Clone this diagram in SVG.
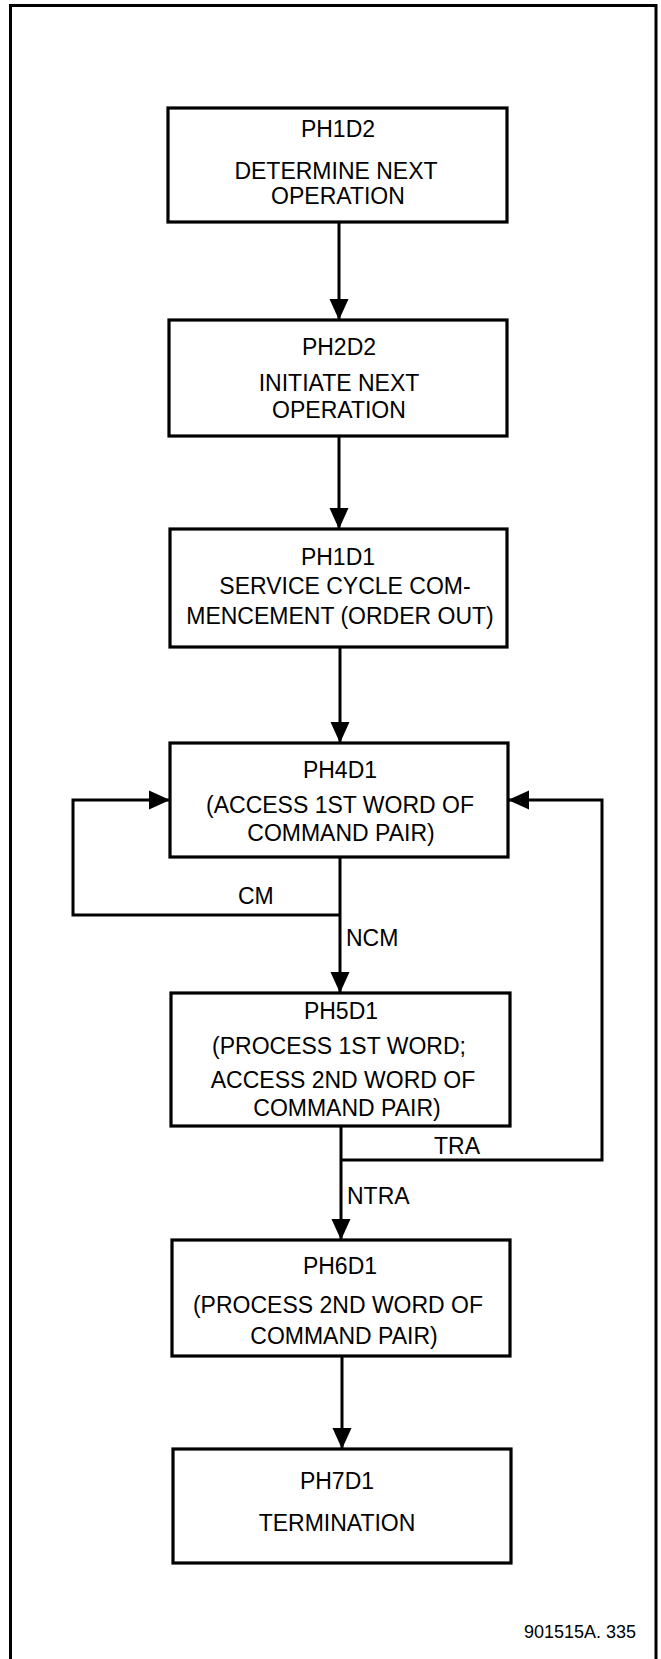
<svg xmlns="http://www.w3.org/2000/svg" width="661" height="1659" viewBox="0 0 661 1659">
  <defs>
    <marker id="arrow" markerUnits="userSpaceOnUse" markerWidth="22" markerHeight="20" refX="21" refY="10" orient="auto">
      <path d="M0,0.5 L21,10 L0,19.5 Z" fill="#000"/>
    </marker>
    <style>
      .frame { fill: none; stroke: #000; stroke-width: 3; }
      .box { fill: #fff; stroke: #000; stroke-width: 3.2; }
      .wire { fill: none; stroke: #000; stroke-width: 3; }
      text { font-family: "Liberation Sans", Arial, sans-serif; font-size: 23px; fill: #000; text-anchor: middle; }
      .lbl { text-anchor: start; }
    </style>
  </defs>
  <rect width="661" height="1659" fill="#fff"/>

  <!-- page frame, open at the bottom -->
  <path class="frame" d="M10.5,1659 V5.5 H656 V1659"/>

  <!-- connectors -->
  <g id="connectors">
    <line class="wire" x1="339" y1="222" x2="339" y2="320" marker-end="url(#arrow)"/>
    <line class="wire" x1="339" y1="436" x2="339" y2="529" marker-end="url(#arrow)"/>
    <line class="wire" x1="340" y1="647" x2="340" y2="743" marker-end="url(#arrow)"/>
    <line class="wire" x1="340" y1="857" x2="340" y2="993" marker-end="url(#arrow)"/>
    <polyline class="wire" points="340,915 73,915 73,800 170,800" marker-end="url(#arrow)"/>
    <line class="wire" x1="341" y1="1126" x2="341" y2="1240" marker-end="url(#arrow)"/>
    <polyline class="wire" points="341,1160 602,1160 602,800 508,800" marker-end="url(#arrow)"/>
    <line class="wire" x1="342" y1="1356" x2="342" y2="1449" marker-end="url(#arrow)"/>
    <text class="lbl" x="238" y="904">CM</text>
    <text class="lbl" x="346" y="946">NCM</text>
    <text class="lbl" x="434" y="1154">TRA</text>
    <text class="lbl" x="347" y="1204">NTRA</text>
  </g>

  <g id="ph1d2">
    <rect class="box" x="168" y="108" width="339" height="114"/>
    <text x="338" y="137">PH1D2</text>
    <text x="336" y="179">DETERMINE NEXT</text>
    <text x="338" y="204">OPERATION</text>
  </g>

  <g id="ph2d2">
    <rect class="box" x="169" y="320" width="338" height="116"/>
    <text x="339" y="355">PH2D2</text>
    <text x="339" y="391">INITIATE NEXT</text>
    <text x="339" y="418">OPERATION</text>
  </g>

  <g id="ph1d1">
    <rect class="box" x="170" y="529" width="337" height="118"/>
    <text x="338" y="565">PH1D1</text>
    <text x="345" y="594">SERVICE CYCLE COM-</text>
    <text x="340" y="624">MENCEMENT (ORDER OUT)</text>
  </g>

  <g id="ph4d1">
    <rect class="box" x="170" y="743" width="338" height="114"/>
    <text x="340" y="778">PH4D1</text>
    <text x="340" y="813">(ACCESS 1ST WORD OF</text>
    <text x="341" y="841">COMMAND PAIR)</text>
  </g>

  <g id="ph5d1">
    <rect class="box" x="171" y="993" width="339" height="133"/>
    <text x="341" y="1019">PH5D1</text>
    <text x="339" y="1054">(PROCESS 1ST WORD;</text>
    <text x="343" y="1088">ACCESS 2ND WORD OF</text>
    <text x="347" y="1116">COMMAND PAIR)</text>
  </g>

  <g id="ph6d1">
    <rect class="box" x="172" y="1240" width="338" height="116"/>
    <text x="340" y="1274">PH6D1</text>
    <text x="338" y="1313">(PROCESS 2ND WORD OF</text>
    <text x="344" y="1344">COMMAND PAIR)</text>
  </g>

  <g id="ph7d1">
    <rect class="box" x="173" y="1449" width="338" height="114"/>
    <text x="337" y="1489">PH7D1</text>
    <text x="337" y="1531">TERMINATION</text>
  </g>

  <text x="580" y="1638" style="font-size:18px">901515A. 335</text>
</svg>
